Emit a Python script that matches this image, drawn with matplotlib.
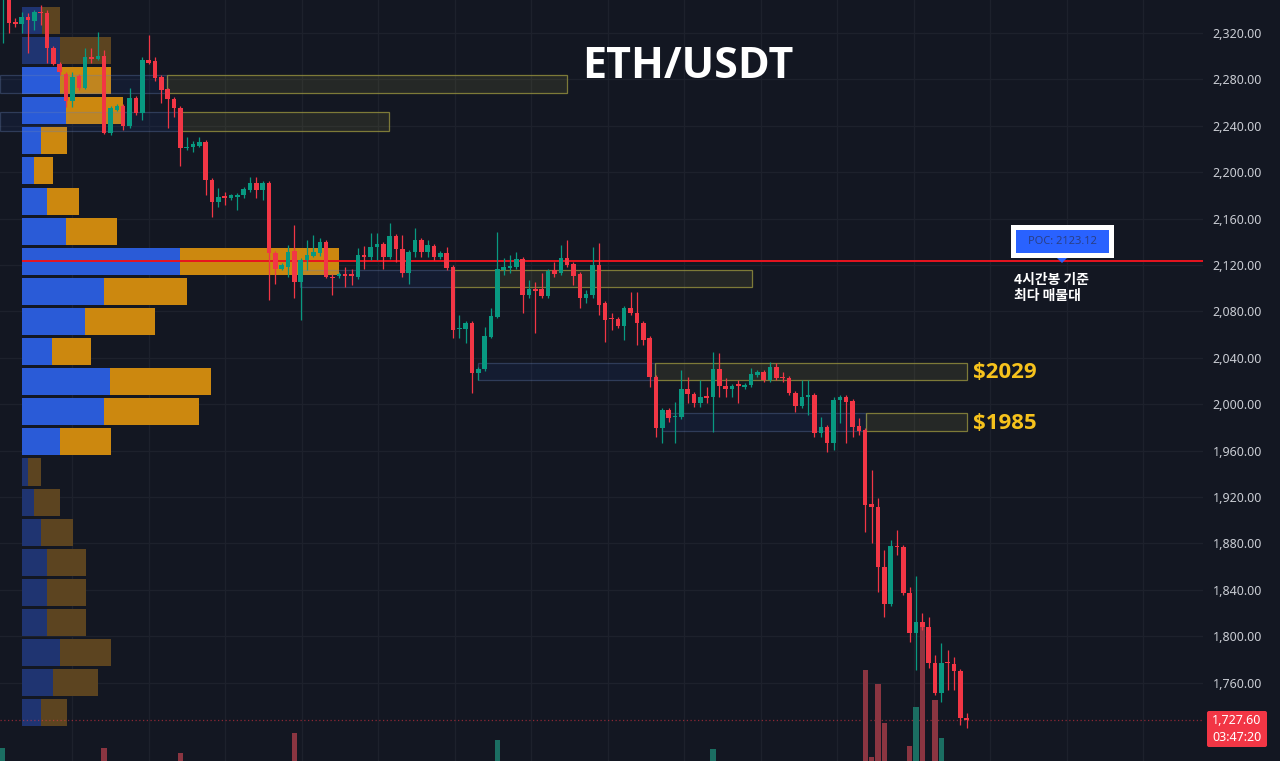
import matplotlib
matplotlib.use('Agg')
import matplotlib.pyplot as plt
from matplotlib.patches import Rectangle, FancyBboxPatch, Polygon
import numpy as np

# ---------------- data ----------------
opens = [2353, 2353, 2329, 2328, 2334, 2330, 2338, 2337, 2307, 2293,
         2285, 2261, 2283, 2273, 2299, 2298, 2300, 2234, 2254, 2257,
         2240, 2264, 2251, 2297, 2296, 2282, 2272, 2263, 2255, 2221,
         2222, 2223, 2226, 2193, 2174, 2179, 2178, 2179, 2180, 2185,
         2191, 2185, 2191, 2130, 2117, 2118, 2132, 2105, 2124, 2128,
         2130, 2140, 2110, 2111, 2111.5, 2111.5, 2110, 2129, 2127, 2135.5,
         2138, 2127, 2145, 2134, 2113, 2131, 2141.5, 2131, 2136, 2127,
         2130, 2118, 2065, 2065, 2070, 2027, 2030, 2058, 2075, 2116,
         2117.5, 2118, 2125, 2094, 2099, 2099, 2093, 2115.7, 2113, 2126,
         2121, 2112, 2091.5, 2094, 2120, 2087, 2074, 2073.5, 2067.4, 2083,
         2078.6, 2070, 2057, 2023.4, 1979.5, 1995, 1988.9, 1989, 2013, 2008.8,
         2001, 2006.5, 2006, 2030.3, 2015.7, 2013, 2017, 2015, 2016.5, 2025,
         2027.7, 2020.8, 2032, 2023, 2022.6, 2009.6, 1998.4, 2006.2, 2008, 1975.2,
         1980.4, 1966.5, 2003.6, 2006.2, 2002.7, 1981.2, 1977.8, 1914, 1911.4, 1859.7,
         1827.8, 1877.7, 1877, 1837.2, 1802.8, 1812.2, 1808, 1776.9, 1751, 1777.5,
         1776, 1770, 1729.5]
highs = [2383, 2355, 2333, 2338, 2337, 2340, 2344, 2340, 2309, 2295,
         2286, 2286, 2285, 2307, 2307, 2321, 2305, 2257, 2259, 2259,
         2273, 2266, 2299, 2318, 2299, 2284, 2273, 2265, 2257, 2230,
         2227, 2230, 2228, 2195, 2186, 2183, 2181.5, 2182, 2187, 2196,
         2196, 2192, 2192, 2132, 2121.5, 2137, 2154.5, 2126, 2141.5, 2145.8,
         2143, 2141.5, 2112, 2114, 2118, 2117, 2134.6, 2136, 2147.6, 2147.6,
         2140, 2156, 2147, 2145.8, 2133, 2152, 2143, 2141.5, 2138, 2132,
         2135.5, 2120, 2077, 2072, 2072, 2032, 2066.5, 2083, 2148.5, 2126,
         2128.6, 2131, 2127, 2107, 2105, 2113, 2116.5, 2122.6, 2137, 2141.5,
         2122.6, 2114, 2098.5, 2135.5, 2139, 2089, 2078.6, 2075, 2084.5, 2096.7,
         2096.7, 2071.6, 2058.6, 2025, 1996.7, 1996.7, 2001.9, 2029.5, 2023.4, 2010.6,
         2020.8, 2014.8, 2045, 2044, 2022.6, 2017.4, 2020.8, 2018, 2031, 2029.5,
         2029.5, 2036.4, 2035.5, 2027.7, 2024.3, 2011.4, 2020.8, 2020.8, 2009.6, 1989,
         1982, 2006.2, 2008, 2008, 2004.5, 1988.1, 1979.5, 1943.3, 1919.2, 1874.3,
         1883, 1891.5, 1878.6, 1842.4, 1851.9, 1820, 1816.6, 1783.8, 1794.1, 1788.1,
         1782.1, 1771.7, 1733.8]
lows = [2311, 2320, 2325, 2320, 2303, 2323, 2327, 2294, 2292, 2284,
        2256, 2256, 2271, 2272, 2294, 2297, 2233, 2232, 2253, 2236,
        2238, 2249, 2245, 2293, 2279, 2260, 2238, 2248, 2205, 2219,
        2217, 2222, 2180, 2161, 2170, 2172, 2176, 2167, 2178, 2183,
        2178, 2176, 2090, 2104, 2116, 2110, 2092, 2073, 2115.7, 2127,
        2128, 2109, 2094, 2109, 2101, 2103, 2108, 2117, 2124, 2124,
        2117, 2125, 2122.6, 2110, 2104, 2127, 2127, 2127, 2124, 2125,
        2115.7, 2057, 2057, 2053, 2010, 2021, 2029, 2057, 2074, 2111,
        2113, 2116.5, 2078.6, 2092, 2061, 2091.5, 2091.5, 2110, 2111, 2118,
        2103, 2083, 2087, 2092, 2077, 2053.6, 2064, 2065.7, 2055, 2077,
        2051, 2051, 2014.8, 1971.7, 1966.5, 1985, 1966.5, 1987, 2001, 1997.6,
        1997.6, 2001, 1976, 2006, 2006, 2006, 2001, 2013, 2014.8, 2023.4,
        2019, 2019, 2020.8, 2019, 2007.9, 1993.3, 1996.7, 1990.7, 1971.7, 1971.7,
        1958.8, 1960.5, 1983.8, 1966.5, 1971.7, 1973.4, 1889.8, 1880.3, 1838, 1816.6,
        1826, 1870, 1835.5, 1795, 1770.9, 1805.4, 1772.6, 1749.3, 1743.3, 1753.6,
        1753.6, 1723.5, 1720.9]
closes = [2374, 2329, 2328, 2334, 2331, 2338, 2337, 2307, 2293, 2286,
          2261, 2282, 2273, 2299, 2298, 2300, 2234, 2255, 2257, 2240,
          2264, 2251, 2297, 2294, 2281, 2271, 2263, 2255, 2221, 2222,
          2224, 2226, 2193, 2174, 2179, 2178, 2180, 2180.5, 2185.5, 2191,
          2185, 2191, 2130, 2117, 2120, 2131, 2105, 2124, 2128.6, 2131,
          2140, 2110, 2109, 2111.5, 2111, 2111, 2129, 2127, 2135.5, 2138,
          2127, 2145, 2133.8, 2113, 2131, 2141.5, 2131, 2137, 2127, 2130.3,
          2117.4, 2064, 2066, 2070, 2027, 2030.3, 2058.8, 2076, 2116.5, 2118,
          2119, 2125, 2094, 2099, 2098, 2093, 2115, 2112.2, 2126, 2120,
          2110.5, 2091.5, 2095, 2120, 2085.5, 2072.6, 2073.5, 2067.4, 2083, 2078.6,
          2070, 2055, 2023.4, 1979.5, 1995, 1988, 1989.8, 2013, 2008.8, 2001,
          2006.2, 2006, 2030.3, 2015.7, 2013, 2015.7, 2016.5, 2016.5, 2026, 2027.7,
          2020.8, 2032, 2022.6, 2022.6, 2009.6, 1998.4, 2006.2, 2008, 1975.2, 1980.4,
          1966.5, 2003.6, 2006.2, 2001.9, 1980.4, 1976.9, 1913.1, 1911.4, 1859.7, 1827.8,
          1877.7, 1877, 1837.2, 1802.8, 1812.2, 1808, 1776.9, 1751, 1776.9, 1777,
          1770, 1729.5, 1727.6]

# visible volume bars (candle index, volume)
vol_idx = [0, 16, 28, 46, 78, 112, 136, 137, 138, 139, 143, 144, 145, 147, 148]
vol_val = [13, 13, 8, 28, 21, 12, 91, 4, 77, 38, 15, 54, 139, 61, 23]

# volume profile (row centre price, buy volume, sell volume)
vp_price = [2330.8, 2304.9, 2278.9, 2253.0, 2227.0, 2201.1, 2175.1, 2149.2,
            2123.2, 2097.3, 2071.3, 2045.4, 2019.4, 1993.5, 1967.5, 1941.6,
            1915.6, 1889.7, 1863.7, 1837.8, 1811.8, 1785.9, 1759.9, 1734.0]
vp_buy = [20, 38, 38, 44, 19, 12, 25, 44, 158, 82, 63, 30, 88, 82, 38, 6,
          12, 19, 25, 25, 25, 38, 31, 19]
vp_sell = [18, 51, 51, 57, 26, 19, 32, 51, 159, 83, 70, 39, 101, 95, 51, 13,
           26, 32, 39, 39, 39, 51, 45, 26]
value_area = (2, 14)  # rows inside value area

poc_price = 2123.12
last_price = 1727.60
countdown = "03:47:20"

# zones: (x_start, x_end, price_low, price_high, kind)
zones = [(-0.5, 25.9, 2268.3, 2283.8, 'b'), (25.9, 89.0, 2268.3, 2283.8, 'y'),
         (-0.5, 28.0, 2235.5, 2251.9, 'b'), (28.0, 60.9, 2235.5, 2251.9, 'y'),
         (46.9, 71.0, 2101.0, 2115.7, 'b'), (71.0, 118.1, 2101.0, 2115.7, 'y'),
         (74.9, 102.9, 2020.8, 2035.5, 'b'), (102.9, 152.0, 2020.8, 2035.5, 'y'),
         (104.0, 136.1, 1976.9, 1992.4, 'b'), (136.1, 152.0, 1976.9, 1992.4, 'y')]
level_labels = [("$2029", 2029), ("$1985", 1985)]
price_ticks = [1760, 1800, 1840, 1880, 1920, 1960, 2000, 2040, 2080, 2120,
               2160, 2200, 2240, 2280, 2320]

# ---------------- style ----------------
W, H, DPI = 1280, 761, 100
BG = '#131722'
UP = '#089981'
DN = '#f23645'
GRID = '#1d212c'
plt.rcParams['font.family'] = ['Noto Sans', 'Noto Sans CJK KR', 'DejaVu Sans']

fig = plt.figure(figsize=(W / DPI, H / DPI), dpi=DPI, facecolor=BG)
plot_right = 1203
ax = fig.add_axes([0, 0, plot_right / W, 1])
ax.set_facecolor(BG)
step = 6.342
x0 = 2.7
px2x = lambda p: (p - x0) / step
ax.set_xlim(px2x(0), px2x(plot_right))
ymin, ymax = 1692.47, 2348.45
ax.set_ylim(ymin, ymax)
ppx = (ymax - ymin) / H  # price per pixel

for s in ax.spines.values():
    s.set_visible(False)
ax.set_xticks([])
ax.yaxis.tick_right()
ax.set_yticks(price_ticks)
ax.set_yticklabels([f"{t:,.2f}" for t in price_ticks])
ax.tick_params(axis='y', length=0, pad=7, labelsize=9, labelcolor='#c9ccd3')
for t in price_ticks:
    ax.axhline(t, color=GRID, lw=1, zorder=0)
for gx in np.arange(72, plot_right, 76.5):
    ax.axvline(px2x(gx), color=GRID, lw=1, zorder=0)

# volume profile
prof_left = px2x(21.7)
row_h = 23.3
for i, (p, b, s) in enumerate(zip(vp_price, vp_buy, vp_sell)):
    inside = value_area[0] <= i <= value_area[1]
    cb = '#2a5bd7' if inside else '#1f3471'
    cs = '#cc880f' if inside else '#5c4420'
    ax.barh(p, b / step, left=prof_left, height=row_h, color=cb, zorder=1, linewidth=0)
    ax.barh(p, s / step, left=prof_left + b / step, height=row_h, color=cs, zorder=1, linewidth=0)

# zones
for xs, xe, lo, hi, kind in zones:
    if kind == 'b':
        fc, ec = (0.16, 0.38, 1.0, 0.07), (0.40, 0.50, 0.70, 0.35)
    else:
        fc, ec = (0.80, 0.78, 0.30, 0.10), (0.62, 0.60, 0.25, 0.75)
    ax.add_patch(Rectangle((xs, lo), xe - xs, hi - lo, facecolor=fc,
                           edgecolor=ec, lw=0.9, zorder=2))

# POC line
ax.plot([prof_left, px2x(plot_right)], [poc_price, poc_price], color='#e8141f',
        lw=1.4, zorder=3, solid_capstyle='butt')
# last price dotted line
ax.axhline(last_price, color='#f23645', lw=0.9, ls=(0, (1, 2)), alpha=0.55, zorder=2)

# volume bars
for i, v in zip(vol_idx, vol_val):
    col = '#1b6e62' if closes[i] >= opens[i] else '#8a3541'
    ax.bar(i, v * ppx, bottom=ymin, width=0.85, color=col, zorder=2, linewidth=0)

# candles
xs = np.arange(len(opens))
for i in xs:
    o, h, l, c = opens[i], highs[i], lows[i], closes[i]
    col = UP if c > o else DN
    ax.plot([i, i], [l, h], color=col, lw=0.9, zorder=4, solid_capstyle='butt')
    lo_b, hb = min(o, c), abs(c - o)
    if hb < 1.2:
        lo_b, hb = (o + c) / 2 - 0.6, 1.2
    ax.add_patch(Rectangle((i - 0.36, lo_b), 0.72, hb, facecolor=col,
                           edgecolor='none', zorder=5))

# level labels
for txt, p in level_labels:
    ax.text(px2x(973), p - 1.5, txt, color='#f6c21c', fontsize=16, fontweight='bold',
            va='center', ha='left', zorder=6, family=['Open Sans', 'DejaVu Sans'])

# ---------------- pixel overlay for annotations ----------------
ov = fig.add_axes([0, 0, 1, 1], facecolor='none')
ov.set_xlim(0, W)
ov.set_ylim(H, 0)
ov.axis('off')

ov.text(688, 66, "ETH/USDT", color='white', fontsize=31, fontweight='bold',
        ha='center', va='center', family=['Open Sans', 'DejaVu Sans'])

# POC box
ov.add_patch(Rectangle((1011, 225), 103, 33, facecolor='white', edgecolor='none'))
ov.add_patch(Rectangle((1016, 230), 93, 23, facecolor='#2962ff', edgecolor='none'))
ov.add_patch(Polygon([[1057, 258], [1067, 258], [1062, 263]], closed=True,
                     facecolor='#2962ff', edgecolor='none'))
ov.text(1062.5, 242, f"POC: {poc_price:.2f}", color='#2a3f85', fontsize=8,
        ha='center', va='center')
ov.text(1014, 288, "4시간봉 기준\n최다 매물대", color='white', fontsize=10,
        ha='left', va='center', linespacing=1.2, fontweight='bold',
        family=['Noto Sans CJK KR', 'DejaVu Sans'])

# last price label
ov.add_patch(FancyBboxPatch((1207, 711), 60, 36, boxstyle='round,pad=0,rounding_size=2',
                            facecolor='#f23645', edgecolor='none'))
ov.text(1237, 720.5, f"{last_price:,.2f}", color='white', fontsize=9,
        ha='center', va='center')
ov.text(1237, 737.5, countdown, color='white', fontsize=9, ha='center', va='center')

fig.savefig('out.png', dpi=DPI, facecolor=BG)
